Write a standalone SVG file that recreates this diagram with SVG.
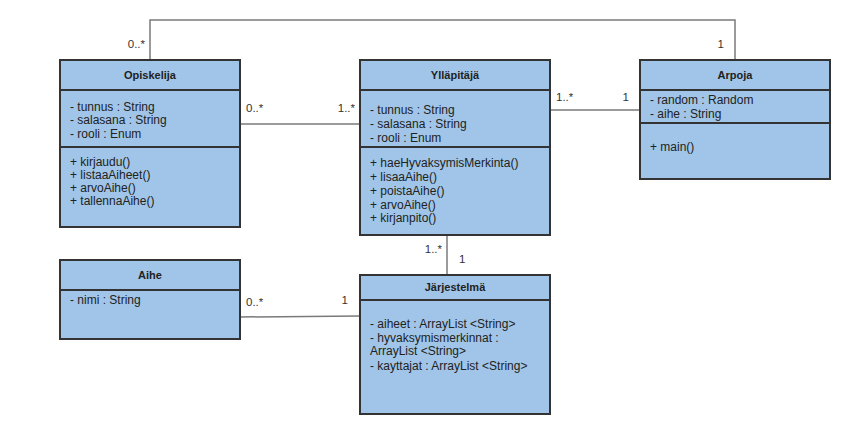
<svg xmlns="http://www.w3.org/2000/svg" width="856" height="435" viewBox="0 0 856 435">
<style>
.box{fill:#a0c5e8;stroke:#333333;stroke-width:2}
.div{stroke:#333333;stroke-width:2}
.conn{fill:none;stroke:#7a7a7a;stroke-width:1.5}
text{font-family:"Liberation Sans",Arial,sans-serif;font-size:12px;fill:#222}
.title{font-weight:bold;text-anchor:middle;font-size:11px}
.lbl{fill:#333;font-size:11.5px}
.end{text-anchor:end}
</style>
<rect width="856" height="435" fill="#ffffff"/>
<g id="connectors">
<polyline class="conn" points="150,60 150,20 735,20 735,60"/>
<line class="conn" x1="240" y1="124" x2="360" y2="124"/>
<line class="conn" x1="550" y1="110" x2="640" y2="110"/>
<line class="conn" x1="447" y1="235" x2="447" y2="275"/>
<line class="conn" x1="240" y1="317" x2="360" y2="316"/>
<text class="lbl end" x="145" y="48">0..*</text>
<text class="lbl end" x="724" y="48">1</text>
<text class="lbl" x="246" y="112">0..*</text>
<text class="lbl end" x="355" y="112">1..*</text>
<text class="lbl" x="556" y="101">1..*</text>
<text class="lbl end" x="629" y="101">1</text>
<text class="lbl end" x="442" y="253">1..*</text>
<text class="lbl" x="459" y="263">1</text>
<text class="lbl" x="246" y="306">0..*</text>
<text class="lbl end" x="348" y="304">1</text>
</g>
<g id="Opiskelija">
<rect class="box" x="60" y="60" width="180" height="167"/>
<line class="div" x1="60" y1="90" x2="240" y2="90"/>
<line class="div" x1="60" y1="147" x2="240" y2="147"/>
<text class="title" x="150" y="79">Opiskelija</text>
<text x="70" y="111">- tunnus : String</text>
<text x="70" y="124">- salasana : String</text>
<text x="70" y="138">- rooli : Enum</text>
<text x="70" y="166">+ kirjaudu()</text>
<text x="70" y="179">+ listaaAiheet()</text>
<text x="70" y="192">+ arvoAihe()</text>
<text x="70" y="205">+ tallennaAihe()</text>
</g>
<g id="Yllapitaja">
<rect class="box" x="360" y="60" width="190" height="175"/>
<line class="div" x1="360" y1="90" x2="550" y2="90"/>
<line class="div" x1="360" y1="147" x2="550" y2="147"/>
<text class="title" x="455" y="79">Ylläpitäjä</text>
<text x="370" y="114">- tunnus : String</text>
<text x="370" y="128">- salasana : String</text>
<text x="370" y="142">- rooli : Enum</text>
<text x="370" y="167">+ haeHyvaksymisMerkinta()</text>
<text x="370" y="181">+ lisaaAihe()</text>
<text x="370" y="195">+ poistaAihe()</text>
<text x="370" y="209">+ arvoAihe()</text>
<text x="370" y="222">+ kirjanpito()</text>
</g>
<g id="Arpoja">
<rect class="box" x="640" y="60" width="190" height="119"/>
<line class="div" x1="640" y1="90" x2="830" y2="90"/>
<line class="div" x1="640" y1="123" x2="830" y2="123"/>
<text class="title" x="735" y="79">Arpoja</text>
<text x="650" y="104">- random : Random</text>
<text x="650" y="118">- aihe : String</text>
<text x="650" y="151">+ main()</text>
</g>
<g id="Aihe">
<rect class="box" x="60" y="260" width="180" height="79"/>
<line class="div" x1="60" y1="290" x2="240" y2="290"/>
<text class="title" x="150" y="279">Aihe</text>
<text x="70" y="304">- nimi : String</text>
</g>
<g id="Jarjestelma">
<rect class="box" x="360" y="275" width="190" height="139"/>
<line class="div" x1="360" y1="300" x2="550" y2="300"/>
<text class="title" x="455" y="291">Järjestelmä</text>
<text x="370" y="328">- aiheet : ArrayList &lt;String&gt;</text>
<text x="370" y="342">- hyvaksymismerkinnat :</text>
<text x="370" y="355">ArrayList &lt;String&gt;</text>
<text x="370" y="370">- kayttajat : ArrayList &lt;String&gt;</text>
</g>
</svg>
